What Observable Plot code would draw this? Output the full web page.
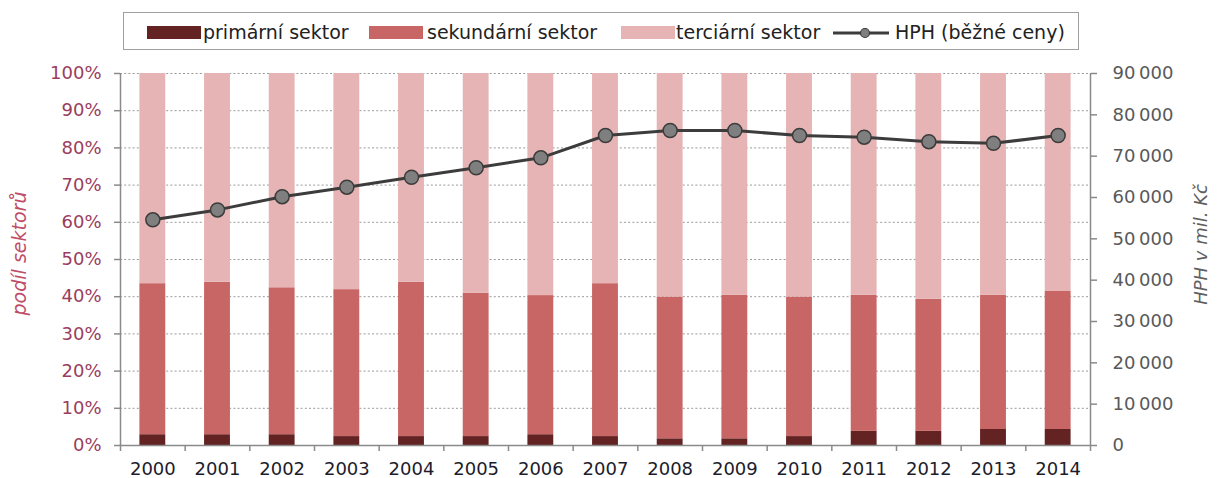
<!DOCTYPE html>
<html><head><meta charset="utf-8">
<script src="https://cdn.jsdelivr.net/npm/d3@7"></script>
<script src="https://cdn.jsdelivr.net/npm/@observablehq/plot@0.6"></script>
<style>
body{margin:0;background:#fff;font-family:"DejaVu Sans",sans-serif;}
#wrap{position:relative;width:1221px;height:478px;overflow:hidden;}
#legend{position:relative;width:1221px;height:60px;}
#legend .box{position:absolute;left:123px;top:12px;width:956px;height:38px;border:1.5px solid #a0a0a0;box-sizing:border-box;}
#legend .sw{position:absolute;top:26px;width:54px;height:13px;}
#legend .tx{position:absolute;top:20px;font-size:19px;line-height:24px;color:#222;white-space:nowrap;}
#legend svg{position:absolute;top:25px;}
#chart svg{display:block;}
</style>
</head><body>
<div id="wrap">
  <div id="legend"><div class="box"></div></div>
  <div id="chart"></div>
</div>
<script>
const years = [2000,2001,2002,2003,2004,2005,2006,2007,2008,2009,2010,2011,2012,2013,2014];
const primary   = [2.9,2.9,2.9,2.4,2.4,2.4,2.9,2.4,1.8,1.8,2.4,3.8,3.8,4.3,4.3];
const secondary = [40.6,41.0,39.5,39.5,41.5,38.5,37.4,41.1,38.1,38.6,37.5,36.6,35.5,36.1,37.1];
const tertiary  = [56.5,56.1,57.6,58.1,56.1,59.1,59.7,56.5,60.1,59.6,60.1,59.6,60.7,59.6,58.6];
const hph       = [54600,57000,60200,62500,64900,67200,69600,75000,76200,76200,75000,74600,73500,73100,75000];
const sectors = ["primární sektor","sekundární sektor","terciární sektor"];
const sectorColors = ["#632323","#c86565","#e6b4b4"];
const lineLabel = "HPH (běžné ceny)";
const leftTicks = [0,10,20,30,40,50,60,70,80,90,100];
const leftTickLabels = ["0%","10%","20%","30%","40%","50%","60%","70%","80%","90%","100%"];
const rightTicks = [0,10000,20000,30000,40000,50000,60000,70000,80000,90000];
const rightTickLabels = ["0","10\u2009000","20\u2009000","30\u2009000","40\u2009000","50\u2009000","60\u2009000","70\u2009000","80\u2009000","90\u2009000"];
const rightMax = 90000;
const leftTitle = "podíl sektorů";
const rightTitle = "HPH v mil. Kč";

// right-axis values are drawn on the shared 0–100 y scale (90 000 ↔ 100 %)
const toY = v => v / rightMax * 100;

// stacked rows
const rows = years.flatMap((yr, i) => {
  let acc = 0;
  return [primary[i], secondary[i], tertiary[i]].map((v, k) => {
    const r = {year: yr, sector: sectors[k], y1: acc, y2: acc + v};
    acc += v;
    return r;
  });
});
const hphRows = years.map((yr, i) => ({year: yr, v: hph[i]}));
const boundaries = years.map(y => y - 0.5).concat([years[years.length - 1] + 0.5]);

// legend
const legend = document.getElementById("legend");
const swLeft = [147, 369, 621];
const txLeft = [203, 427, 676];
sectors.forEach((s, k) => {
  const sw = document.createElement("div");
  sw.className = "sw"; sw.style.left = swLeft[k] + "px"; sw.style.background = sectorColors[k];
  legend.appendChild(sw);
  const tx = document.createElement("div");
  tx.className = "tx"; tx.style.left = txLeft[k] + "px"; tx.textContent = s;
  legend.appendChild(tx);
});
const ls = d3.create("svg").attr("width", 56).attr("height", 16).style("left", "833px");
ls.append("line").attr("x1", 0).attr("x2", 56).attr("y1", 8).attr("y2", 8).attr("stroke", "#3c3c3c").attr("stroke-width", 3);
ls.append("circle").attr("cx", 32).attr("cy", 8).attr("r", 4.5).attr("fill", "#7f7f7f").attr("stroke", "#3c3c3c").attr("stroke-width", 1.2);
legend.appendChild(ls.node());
const lt = document.createElement("div");
lt.className = "tx"; lt.style.left = "895px"; lt.textContent = lineLabel;
legend.appendChild(lt);

const chart = Plot.plot({
  width: 1221,
  height: 418,
  marginTop: 13,
  marginBottom: 33,
  marginLeft: 120,
  marginRight: 131,
  style: {fontFamily: "DejaVu Sans", fontSize: "18px", background: "white", overflow: "visible"},
  x: {type: "linear", domain: [years[0] - 0.5, years[years.length - 1] + 0.5]},
  y: {domain: [0, 100]},
  color: {domain: sectors, range: sectorColors},
  marks: [
    Plot.gridY(leftTicks.filter(t => t > 0), {stroke: "#9a9a9a", strokeOpacity: 1, strokeDasharray: "2,2.2", strokeWidth: 1}),
    Plot.rectY(rows, {x1: d => d.year - 0.2, x2: d => d.year + 0.2, y1: "y1", y2: "y2", fill: "sector"}),
    Plot.ruleX([years[0] - 0.5, years[years.length - 1] + 0.5], {stroke: "#8a8a8a", strokeWidth: 1.5}),
    Plot.ruleY([0], {stroke: "#8a8a8a", strokeWidth: 1.5}),
    Plot.axisY(leftTicks, {anchor: "left", tickSize: 6, tickPadding: 13, tickFormat: d => leftTickLabels[leftTicks.indexOf(d)], stroke: "#8a8a8a", strokeWidth: 1.5, fill: "#9a3d5e", label: null}),
    Plot.axisY(rightTicks.map(toY), {anchor: "right", tickSize: 6, tickPadding: 16, tickFormat: d => rightTickLabels[Math.round(d * rightMax / 100 / 10000)], stroke: "#8a8a8a", strokeWidth: 1.5, fill: "#595959", label: null}),
    Plot.axisX(boundaries, {anchor: "bottom", tickSize: 6, tickFormat: () => "", stroke: "#8a8a8a", strokeWidth: 1.5, label: null}),
    Plot.axisX(years, {anchor: "bottom", tickSize: 0, tickPadding: 17, tickFormat: d3.format("d"), fill: "#1c1c2c", label: null}),
    Plot.line(hphRows, {x: "year", y: d => toY(d.v), stroke: "#3c3c3c", strokeWidth: 3}),
    Plot.dot(hphRows, {x: "year", y: d => toY(d.v), r: 7, fill: "#7f7f7f", stroke: "#3c3c3c", strokeWidth: 1.5}),
    Plot.text([leftTitle], {text: d => d, frameAnchor: "left", textAnchor: "middle", dx: -101, dy: -6, rotate: -90, fontSize: 19, fontStyle: "italic", fill: "#c04d68"}),
    Plot.text([rightTitle], {text: d => d, frameAnchor: "right", textAnchor: "middle", dx: 111, dy: -15, rotate: -90, fontSize: 18, fontStyle: "italic", fill: "#606060"})
  ]
});
document.getElementById("chart").appendChild(chart);
</script>
</body></html>
